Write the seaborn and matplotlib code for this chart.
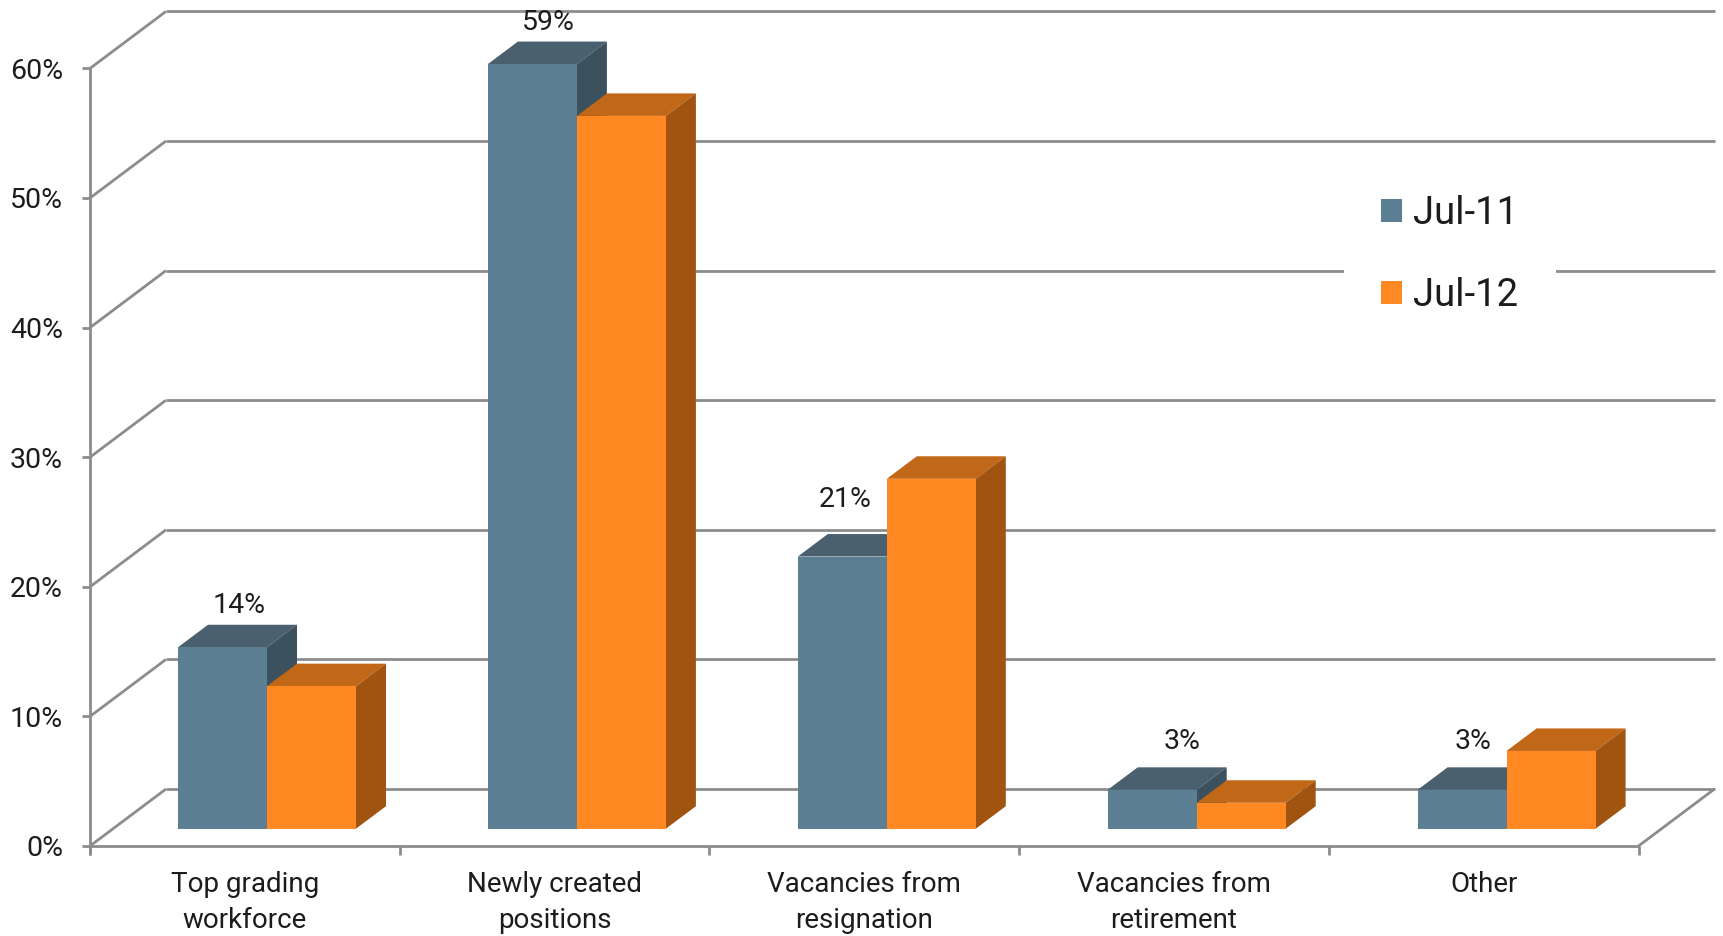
import matplotlib
matplotlib.use("Agg")
import matplotlib.pyplot as plt
from matplotlib.patches import Polygon, Patch
import pandas as pd
import seaborn as sns

categories = ["Top grading\nworkforce", "Newly created\npositions", "Vacancies from\nresignation",
              "Vacancies from\nretirement", "Other"]
series_names = ["Jul-11", "Jul-12"]
jul_11 = [14, 59, 21, 3, 3]
jul_12 = [11, 55, 27, 2, 6]
y_ticks = [0, 10, 20, 30, 40, 50, 60]

front_colors = ["#5d7f93", "#ff8822"]
top_colors = ["#4a606f", "#c16718"]
side_colors = ["#3b515d", "#a05410"]
line_color = "#8c8c8c"
text_color = "#1c1c1c"

W, H = 1723, 936
X0_PX, CAT_PX = 267.0, 309.9   # pixel x of first category, pixels per category
Y0_PX, UNIT_PX = 828.7, 12.96  # pixel y of bar base, pixels per percentage point
FRAME_STEP = 309.7 / CAT_PX    # width of one category in the axis frame
def dx(px): return px / CAT_PX
def dy(px): return px / UNIT_PX

sns.set_theme(style="white")
plt.rcParams["font.family"] = ["Roboto", "DejaVu Sans"]

df = pd.DataFrame({
    "category": categories * 2,
    "value": jul_11 + jul_12,
    "series": [series_names[0]] * 5 + [series_names[1]] * 5,
})

fig = plt.figure(figsize=(W / 100, H / 100), dpi=100)
ax = fig.add_axes([0, 0, 1, 1])
sns.barplot(data=df, x="category", y="value", hue="series", hue_order=series_names,
            palette=front_colors, saturation=1, width=2 * 89 / CAT_PX, gap=0, dodge=True,
            legend=False, linewidth=0, ax=ax, zorder=3)
ax.set_xlim(-X0_PX / CAT_PX, (W - X0_PX) / CAT_PX)
ax.set_ylim(-(H - Y0_PX) / UNIT_PX, Y0_PX / UNIT_PX)
ax.set_axis_off()

# 3-D faces derived from the seaborn bars
DEPTH_X, DEPTH_Y = dx(30), dy(22.5)
for s, container in enumerate(ax.containers):
    for bar in container:
        l, w, h = bar.get_x(), bar.get_width(), bar.get_height()
        r = l + w
        z = 2 + s * 0.5
        ax.add_patch(Polygon([(l, h), (r, h), (r + DEPTH_X, h + DEPTH_Y), (l + DEPTH_X, h + DEPTH_Y)],
                             closed=True, fc=top_colors[s], ec="none", zorder=z))
        ax.add_patch(Polygon([(r, 0), (r + DEPTH_X, DEPTH_Y), (r + DEPTH_X, h + DEPTH_Y), (r, h)],
                             closed=True, fc=side_colors[s], ec="none", zorder=z))

# Frame of the 3-D chart
left = -X0_PX / CAT_PX + dx(90)
right = left + len(categories) * FRAME_STEP
back_dx, back_dy = dx(76), dy(57)
front_base = -dy(846 - Y0_PX)
line = dict(color=line_color, lw=2.0, zorder=1, solid_capstyle="butt")
ax.plot([left, left], [front_base - dy(9), front_base + y_ticks[-1]], **line)
ax.plot([left, right], [front_base, front_base], **line)
ax.plot([right, right + back_dx], [front_base, front_base + back_dy], **line)
for v in y_ticks:
    y = front_base + v
    ax.plot([left - dx(8), left], [y, y], **line)
    ax.plot([left, left + back_dx], [y, y + back_dy], **line)
    ax.plot([left + back_dx, right + back_dx], [y + back_dy, y + back_dy], **line)
    ax.text(left - dx(27), y, f"{v}%", ha="right", va="center_baseline",
            fontsize=20.5, color=text_color)
for i in range(len(categories) + 1):
    ax.plot([left + i * FRAME_STEP] * 2, [front_base, front_base - dy(9)], **line)
for i, label in enumerate(categories):
    ax.text(left + (i + 0.5) * FRAME_STEP, front_base - dy(25), label, ha="center", va="top",
            fontsize=20, linespacing=1.45, color=text_color)

# Value labels of the Jul-11 series: offsets from the bar's top centre, in pixels
label_shift_x = [17, 16, 3, 30, 11]
label_shift_y = [45, 45, 60, 51, 51]
for bar, v, sx, sy in zip(ax.containers[0], jul_11, label_shift_x, label_shift_y):
    ax.text(bar.get_x() + bar.get_width() / 2 + dx(sx), v + dy(sy), f"{v}%", ha="center",
            va="center_baseline", fontsize=20.5, color=text_color, zorder=5)

handles = [Patch(fc=c, ec="none") for c in front_colors]
leg = ax.legend(handles, series_names, loc="center left", bbox_to_anchor=(1344 / W, 1 - 254.5 / H),
                bbox_transform=fig.transFigure, borderaxespad=0, borderpad=0.98, fontsize=27.5,
                handlelength=0.55, handleheight=0.55, handletextpad=0.28, labelspacing=1.2,
                facecolor="white", edgecolor="none", framealpha=1, fancybox=False, labelcolor=text_color)
leg.set_zorder(4)

fig.savefig("out.png", dpi=100)
